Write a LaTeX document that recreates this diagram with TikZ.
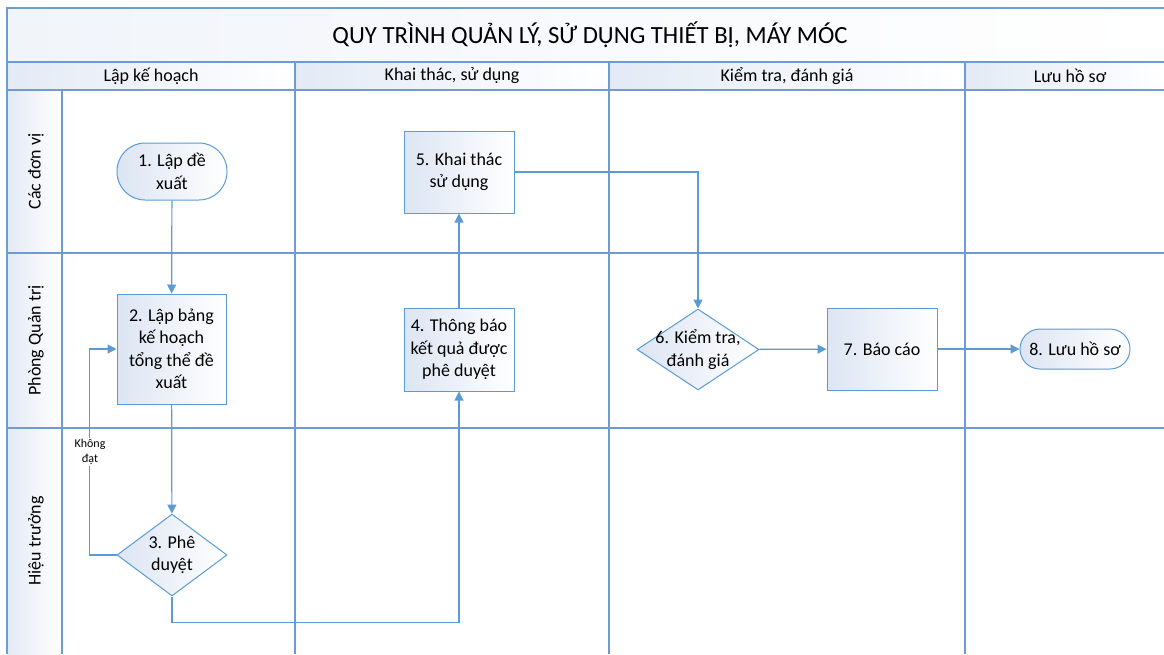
\documentclass[tikz,border=0pt]{standalone}
\usepackage{fontspec}
\setmainfont{Carlito}
\usetikzlibrary{shapes.geometric,arrows.meta}
\definecolor{gridc}{HTML}{6E9CD2}
\definecolor{linec}{HTML}{5B9BD5}
\definecolor{fillc}{HTML}{DCE5F3}
\begin{document}
\begin{tikzpicture}[x=1pt,y=-1pt,
  gridline/.style={draw=gridc,line width=1.4pt},
  bandfill/.style={left color=fillc!80,right color=white,draw=none},
  txt/.style={font=\fontsize{18}{22.5}\selectfont,align=center},
  proc/.style={txt,draw=linec,line width=1pt,left color=fillc,right color=white,inner sep=2pt,minimum width=110pt},
  term/.style={proc,rounded corners=#1},
  dec/.style={txt,shape=diamond,draw=linec,line width=1pt,left color=fillc,right color=white,inner sep=-8pt},
  conn/.style={draw=linec,line width=1.2pt,-{Triangle[length=9pt,width=9pt]}},
  lbl/.style={font=\fontsize{12}{15}\selectfont,align=center,fill=white,inner sep=1pt}
]
\useasboundingbox (0,0) rectangle (1164,654);
% backgrounds
\path[bandfill,left color=fillc!40] (7,8) rectangle (1164,62);
\path[bandfill] (7,62) rectangle (295,90);
\path[bandfill] (295,62) rectangle (609,90);
\path[bandfill] (609,62) rectangle (965,90);
\path[bandfill] (965,62) rectangle (1164,90);
\path[bandfill] (7,90) rectangle (62,253);
\path[bandfill] (7,253) rectangle (62,428);
\path[bandfill] (7,428) rectangle (62,654);
% grid
\draw[gridline] (1164,8) -- (7,8) -- (7,654);
\draw[gridline] (7,62) -- (1164,62);
\draw[gridline] (7,90) -- (1164,90);
\draw[gridline] (7,253) -- (1164,253);
\draw[gridline] (7,428) -- (1164,428);
\draw[gridline] (62,90) -- (62,654);
\draw[gridline] (295,62) -- (295,654);
\draw[gridline] (609,62) -- (609,654);
\draw[gridline] (965,62) -- (965,654);
% titles
\node[font=\fontsize{24.7}{28}\selectfont] (title) at (590,35) {QUY TRÌNH QUẢN LÝ, SỬ DỤNG THIẾT BỊ, MÁY MÓC};
\node[txt] (h1) at (151,76) {Lập kế hoạch};
\node[txt] (h2) at (452,76) {Khai thác, sử dụng};
\node[txt] (h3) at (787,76) {Kiểm tra, đánh giá};
\node[txt] (h4) at (1070,76) {Lưu hồ sơ};
\node[txt,rotate=90] (l1) at (36,171.5) {Các đơn vị};
\node[txt,rotate=90] (l2) at (36,340.5) {Phòng Quản trị};
\node[txt,rotate=90] (l3) at (36,541) {Hiệu trưởng};
% nodes
\node[term=28pt,minimum height=57pt] (n1) at (172,171.5) {1. Lập đề\\xuất};
\node[proc,minimum width=109pt,minimum height=110pt] (n2) at (171.5,349) {2. Lập bảng\\kế hoạch\\tổng thể đề\\xuất};
\node[dec,minimum width=110pt,minimum height=82pt,shape aspect=1.34] (n3) at (172,555) {3. Phê\\duyệt};
\node[proc,minimum height=83pt] (n4) at (459,349.5) {4. Thông báo\\kết quả được\\phê duyệt};
\node[proc,minimum height=82pt] (n5) at (459,172) {5. Khai thác\\sử dụng};
\node[dec,minimum width=122pt,minimum height=81pt,shape aspect=1.5] (n6) at (698,349.5) {6. Kiểm tra,\\đánh giá};
\node[proc,minimum height=82pt] (n7) at (882,349) {7. Báo cáo};
\node[term=20pt,minimum height=40pt] (n8) at (1075,349) {8. Lưu hồ sơ};
% connectors
\draw[conn] (n1) -- (n2);
\draw[conn] (n2) -- (n3);
\draw[conn] (n3.west) -- ++(-27,0) |- (n2.west);
\node[lbl] (kd) at (90,452) {Không\\đạt};
\draw[conn] (n3.south) -- ++(0,26) -| (n4.south);
\draw[conn] (n4) -- (n5);
\draw[conn] (n5.east) -| (n6.north);
\draw[conn] (n6) -- (n7);
\draw[conn] (n7) -- (n8);
\end{tikzpicture}
\end{document}
